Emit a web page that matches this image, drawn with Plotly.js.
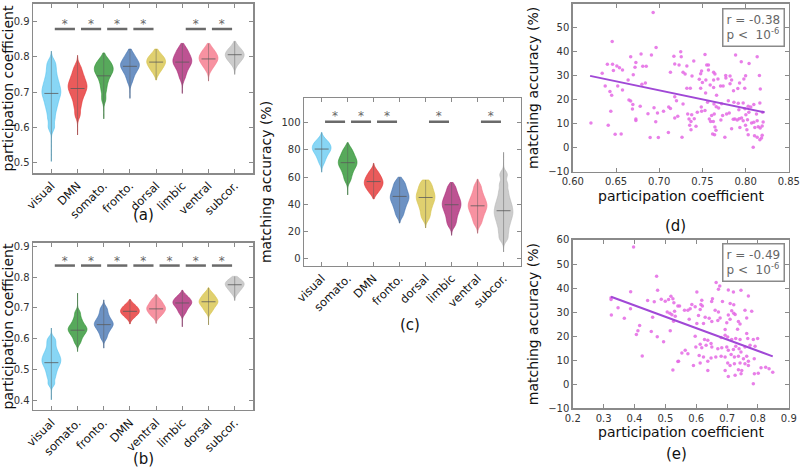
<!DOCTYPE html>
<html>
<head>
<meta charset="utf-8">
<script src="https://cdn.plot.ly/plotly-3.0.1.min.js"></script>
<style>html,body{margin:0;padding:0;background:#fff}#chart{width:800px;height:470px}</style>
</head>
<body>
<div id="chart"></div>
<script>
// ---------- categories ----------
const catsA = ['visual','DMN','somato.','fronto.','dorsal','limbic','ventral','subcor.'];
const catsB = ['visual','somato.','fronto.','DMN','ventral','limbic','dorsal','subcor.'];
const catsC = ['visual','somato.','DMN','fronto.','dorsal','limbic','ventral','subcor.'];

// ---------- violin bodies ----------
const samplesA = [
  [0.60,0.625,0.645,0.66,0.672,0.683,0.692,0.70,0.708,0.717,0.727,0.738,0.752,0.768,0.785],
  [0.635,0.657,0.673,0.686,0.695,0.703,0.71,0.716,0.722,0.729,0.737,0.746,0.757,0.772],
  [0.68,0.705,0.722,0.735,0.745,0.752,0.758,0.763,0.768,0.773,0.779,0.786,0.795],
  [0.73,0.745,0.755,0.762,0.768,0.773,0.777,0.781,0.786,0.792,0.80,0.81],
  [0.755,0.765,0.772,0.778,0.783,0.787,0.791,0.796,0.802,0.81],
  [0.74,0.755,0.766,0.774,0.78,0.785,0.79,0.795,0.801,0.808,0.816,0.826],
  [0.765,0.776,0.783,0.789,0.794,0.798,0.803,0.809,0.816,0.825],
  [0.78,0.79,0.796,0.801,0.805,0.809,0.814,0.82,0.828]
];
const loA  = [0.503,0.578,0.624,0.682,0.734,0.696,0.731,0.750];
const hiA  = [0.816,0.804,0.811,0.822,0.822,0.838,0.838,0.844];
const medA = [0.696,0.710,0.746,0.773,0.785,0.785,0.794,0.806];

const samplesB = [
  [0.455,0.475,0.49,0.502,0.512,0.52,0.527,0.534,0.541,0.549,0.558,0.57,0.585,0.60],
  [0.588,0.602,0.612,0.619,0.625,0.63,0.635,0.64,0.647,0.656,0.668,0.685],
  [0.603,0.618,0.628,0.636,0.642,0.647,0.652,0.658,0.665,0.674,0.686,0.70],
  [0.668,0.676,0.682,0.686,0.69,0.694,0.699,0.705,0.712],
  [0.672,0.68,0.687,0.692,0.697,0.701,0.706,0.712,0.72,0.728],
  [0.683,0.694,0.703,0.709,0.714,0.718,0.722,0.727,0.733,0.741],
  [0.688,0.699,0.707,0.713,0.718,0.722,0.727,0.733,0.74,0.749],
  [0.748,0.758,0.765,0.77,0.775,0.779,0.783,0.788,0.795]
];
const loB  = [0.403,0.559,0.570,0.648,0.650,0.639,0.645,0.724];
const hiB  = [0.635,0.748,0.726,0.727,0.743,0.757,0.765,0.802];
const medB = [0.523,0.628,0.646,0.689,0.697,0.716,0.720,0.775];

const samplesC = [
  [71,74.5,77,78.8,80.2,81.4,82.6,84,85.6,87.5],
  [58,62,65,67.3,69,70.5,72,73.7,75.6,78,81],
  [48.5,51,52.8,54.3,55.6,57,58.4,60,62,64.5],
  [32,36,39,41.5,43.5,45.2,47,49,51.3,54,57],
  [30,34,37.5,40.3,42.6,44.6,46.5,48.5,50.8,53.5,56.5],
  [25,29,32.5,35.3,37.6,39.6,41.5,43.6,46,49,53],
  [26,30,33,35.5,37.5,39.3,41.2,43.3,45.8,49,53.5],
  [15,20,24.5,28,31,33.5,36,38.6,41.5,45,49.5,55,62]
];
const loC  = [63.7,47.0,44.1,26.3,22.7,17.3,18.8,5.1];
const hiC  = [92.9,85.4,70.2,60.0,58.0,56.1,58.5,78.3];
const medC = [80.7,70.7,56.8,45.9,45.1,39.8,39.0,35.4];

// significance bars: left index of each adjacent pair, bar level, star level
const sigA = [0,1,2,3,5,6];        const sigYA = 0.879; const starYA = 0.890;
const sigB = [0,1,2,3,4,5,6];      const sigYB = 0.837; const starYB = 0.850;
const sigC = [0,1,2,4,6];          const sigYC = 100.7; const starYC = 104.5;

// ---------- scatter (d) ----------
const dX = [0.693,0.6456,0.6964,0.679,0.667,0.691,0.673,0.640,0.646,0.651,0.654,0.647,0.6575,0.672,0.681,0.685,0.634,0.670,0.664,0.680,0.684,0.6375,0.652,0.643,0.6575,0.645,0.665,0.667,0.6695,0.678,0.669,0.694,0.711,0.713,0.644,0.705,0.698,0.687,0.673,0.673,0.696,0.7215,0.718,0.621,0.641,0.649,0.656,0.7106,0.6895,0.699,0.713,0.717,0.723,0.718,0.718,0.72,
 0.7249,0.7255,0.753,0.7884,0.8134,0.740,0.795,0.804,0.755,0.757,0.732,0.7276,0.730,0.738,0.749,0.748,0.757,0.763,0.7645,0.777,0.782,0.800,0.816,0.7464,0.754,0.763,0.768,0.7772,0.7838,0.798,0.750,0.759,0.771,0.774,0.782,0.793,0.732,0.736,0.748,0.763,0.786,0.791,0.799,0.817,
 0.7537,0.7664,0.7276,0.7487,0.756,0.7634,0.766,0.7688,0.7722,0.780,0.7865,0.7915,0.7972,0.803,0.806,0.8095,0.8165,0.7992,0.7922,0.733,0.7376,0.7441,0.7491,0.753,0.7607,0.7637,0.7734,0.778,0.7811,0.7876,0.7926,0.7953,0.8003,0.8038,0.8126,0.8196,0.7345,0.7368,0.7406,0.758,0.7595,0.7626,0.7714,0.7857,0.7903,0.7972,0.8022,0.8069,0.8095,0.8134,0.8203,0.7353,0.7368,0.7426,0.7645,0.7657,0.7838,0.7934,0.7999,0.8015,0.8107,0.8146,0.8169,0.8192,0.7264,0.7618,0.7641,0.776,0.803,0.8103,0.8134,0.8192,0.8165,0.8184,0.8088];
const dY = [56.4,44.3,41.8,39.1,38.0,38.7,35.6,34.8,34.8,34.1,33.4,32.2,32.5,33.6,34.0,34.0,31.1,30.5,28.3,26.5,27.0,25.8,25.8,23.5,24.1,21.9,19.9,19.5,18.1,17.3,16.2,16.7,17.0,16.4,15.2,15.2,14.5,14.2,12.0,11.4,10.9,13.1,12.4,10.3,9.4,5.6,5.7,6.4,4.3,4.3,31.5,38.2,34.5,35.0,21.3,19.6,
 40.1,38.0,38.9,38.7,38.0,36.2,35.9,35.2,34.5,34.5,34.1,31.5,30.8,29.9,32.0,30.9,32.5,31.5,30.8,30.2,29.9,30.1,30.2,28.6,28.3,28.3,28.7,29.1,28.3,28.7,27.2,26.2,25.8,25.8,26.7,27.0,24.8,24.8,24.8,25.1,23.8,24.7,24.8,24.5,
 22.85,21.9,18.26,17.0,18.96,18.26,17.15,16.6,18.4,19.65,18.96,18.54,18.7,17.3,17.0,18.0,18.7,16.3,15.9,14.1,13.8,14.8,15.2,15.5,13.5,14.1,13.5,14.1,14.5,12.0,12.1,12.4,13.8,14.8,14.1,14.8,12.0,11.0,12.1,12.0,11.0,11.0,11.6,11.9,11.6,11.3,11.7,10.3,10.6,11.3,10.7,9.36,7.55,8.94,8.66,7.27,7.97,8.5,9.36,7.55,8.5,8.8,8.2,9.08,4.35,5.74,5.46,4.35,5.46,5.04,4.35,5.2,3.37,4.07,0.17];
const dFitX = [0.62, 0.822];
const dFitY = [30.0, 14.8];
const dStats = ['r = -0.38', 'p <  10<sup>-6</sup>'];

// ---------- scatter (e) ----------
const eX = [0.397,0.324,0.324,0.325,0.3466,0.367,0.3875,0.387,0.4166,0.411,0.406,0.425,0.4425,0.464,0.4716,0.4748,0.4867,0.4996,0.5104,0.518,0.5244,0.5276,0.5298,0.5147,0.506,0.5212,0.532,0.5265,0.5405,0.4587,0.4543,0.4737,0.4942,0.5158,0.5244,0.5405,
 0.6645,0.6763,0.672,0.704,0.7205,0.745,0.602,0.6526,0.650,0.685,0.710,0.7216,0.618,0.615,0.620,0.5858,0.5966,0.5804,0.573,0.562,0.546,0.6128,0.6613,0.672,0.715,0.7216,0.704,0.726,0.758,0.7798,0.6074,0.629,0.642,0.6505,0.670,0.6774,0.7367,0.742,0.699,0.7097,0.6235,0.602,0.5772,0.7636,0.769,
 0.6936,0.734,0.5966,0.6268,0.6375,0.6807,0.6936,0.702,0.715,0.728,0.742,0.7636,0.767,0.785,0.799,0.5987,0.6128,0.618,0.632,0.648,0.6505,0.670,0.6828,0.699,0.704,0.7205,0.728,0.7388,0.745,0.758,0.7744,0.7906,0.5643,0.5535,0.573,0.6095,0.6235,0.648,0.6634,0.6807,0.6936,0.713,0.7237,0.7367,0.753,0.7636,0.769,0.788,0.5427,0.591,0.6128,0.6375,0.702,0.7097,0.7237,0.742,0.758,0.769,0.810,0.825,0.836,0.848,0.6936,0.7367,0.7475,0.7884,0.801,0.6375,0.704,0.726,0.7453,0.785];
const eY = [57.1,36.0,35.2,28.8,31.8,27.4,38.5,31.4,24.4,22.2,20.7,11.7,34.8,34.3,44.9,39.1,35.3,34.5,35.2,36.6,35.6,33.9,30.4,29.5,30.0,28.9,28.3,26.2,32.5,27.9,21.9,19.8,17.7,22.2,5.9,9.5,
 42.3,40.9,39.5,39.2,38.4,39.1,38.4,35.6,34.4,34.4,33.6,33.1,34.9,33.2,32.5,33.2,32.2,31.4,30.8,30.8,32.5,31.1,30.8,30.0,30.6,29.5,28.8,29.0,30.8,30.4,28.6,27.9,27.4,26.1,26.5,27.5,26.1,25.1,25.6,27.0,25.3,25.3,27.0,27.6,36.7,
 22.8,22.9,20.0,18.6,18.3,19.4,20.4,19.7,18.6,19.0,18.6,21.1,19.0,18.6,19.0,15.5,16.6,15.2,16.2,16.9,15.5,14.8,15.2,15.5,14.1,14.4,15.8,14.8,13.4,15.5,16.2,15.8,14.1,13.0,12.7,12.0,11.3,10.9,11.3,11.6,11.3,12.4,11.3,11.6,10.6,11.6,9.6,10.6,9.6,7.8,8.8,9.6,8.8,7.8,8.5,8.8,8.5,7.8,6.9,7.1,6.4,5.0,5.7,6.0,5.7,4.4,4.6,5.7,3.2,3.7,4.4,0.2];
const eFitX = [0.324, 0.848];
const eFitY = [36.4, 11.6];
const eStats = ['r = -0.49', 'p <  10<sup>-6</sup>'];

// ---------- styling ----------
const FONT = 'DejaVu Sans, sans-serif';
const colorOf = {
  'visual':  ['rgba(80,195,240,0.68)', 'rgb(80,195,240)'],
  'DMN':     ['rgba(228,45,45,0.78)',  'rgb(228,45,45)'],
  'somato.': ['rgba(40,145,45,0.78)',  'rgb(40,145,45)'],
  'fronto.': ['rgba(60,110,175,0.75)', 'rgb(60,110,175)'],
  'dorsal':  ['rgba(215,195,70,0.78)', 'rgb(215,195,70)'],
  'limbic':  ['rgba(170,35,115,0.78)', 'rgb(170,35,115)'],
  'ventral': ['rgba(245,115,135,0.78)','rgb(245,115,135)'],
  'subcor.': ['rgba(185,185,185,0.72)','rgb(185,185,185)']
};
const traces = [];

function violinPanel(cats, samples, lo, hi, med, bw, sig, sigY, starY, xa, ya) {
  cats.forEach((c, i) => {
    traces.push({
      type: 'violin', y: samples[i], x0: i, name: c, xaxis: xa, yaxis: ya,
      width: 0.72, scalemode: 'width', spanmode: 'manual', span: [lo[i], hi[i]], bandwidth: bw,
      points: false, box: {visible: false}, meanline: {visible: false},
      fillcolor: colorOf[c][0], line: {color: colorOf[c][1], width: 0.6},
      hoverinfo: 'skip'
    });
  });
  // min-max stems
  const sx = [], sy = [];
  cats.forEach((c, i) => { sx.push(i, i, null); sy.push(lo[i], hi[i], null); });
  traces.push({type: 'scatter', mode: 'lines', x: sx, y: sy, xaxis: xa, yaxis: ya,
    line: {color: 'rgba(90,90,90,0.45)', width: 1}, hoverinfo: 'skip'});
  // medians
  traces.push({type: 'scatter', mode: 'markers', x: cats.map((c, i) => i), y: med, xaxis: xa, yaxis: ya,
    marker: {symbol: 'line-ew', size: 10, line: {color: 'rgba(90,90,90,0.8)', width: 1}}, hoverinfo: 'skip'});
  // significance bars
  const bx = [], by = [], tx = [], ty = [];
  sig.forEach(k => { bx.push(k + 0.13, k + 0.9, null); by.push(sigY, sigY, null); tx.push(k + 0.51); ty.push(starY); });
  traces.push({type: 'scatter', mode: 'lines', x: bx, y: by, xaxis: xa, yaxis: ya,
    line: {color: '#6a6a6a', width: 2.5}, hoverinfo: 'skip'});
  traces.push({type: 'scatter', mode: 'text', x: tx, y: ty, text: tx.map(() => '*'), xaxis: xa, yaxis: ya,
    textposition: 'middle center', textfont: {family: FONT, size: 12, color: '#666666'}, hoverinfo: 'skip'});
}

violinPanel(catsA, samplesA, loA, hiA, medA, 0.011, sigA, sigYA, starYA, 'x', 'y');
violinPanel(catsB, samplesB, loB, hiB, medB, 0.009, sigB, sigYB, starYB, 'x2', 'y2');
violinPanel(catsC, samplesC, loC, hiC, medC, 2.6, sigC, sigYC, starYC, 'x3', 'y3');

function scatterPanel(X, Y, fx, fy, xa, ya) {
  traces.push({type: 'scatter', mode: 'markers', x: X, y: Y, xaxis: xa, yaxis: ya,
    marker: {color: 'rgba(228,105,228,0.85)', size: 3.5, line: {width: 0}}, hoverinfo: 'skip'});
  traces.push({type: 'scatter', mode: 'lines', x: fx, y: fy, xaxis: xa, yaxis: ya,
    line: {color: '#a048d6', width: 2}, hoverinfo: 'skip'});
}
scatterPanel(dX, dY, dFitX, dFitY, 'x4', 'y4');
scatterPanel(eX, eY, eFitX, eFitY, 'x5', 'y5');

const axBase = {
  showline: true, mirror: 'ticks', linecolor: '#8a8a8a', linewidth: 1.5,
  ticks: 'inside', ticklen: 4, tickcolor: '#8a8a8a', tickwidth: 1,
  showgrid: false, zeroline: false, fixedrange: true,
  tickfont: {family: FONT, size: 10, color: '#333'}
};
function catX(dom, anchor, cats, rng) {
  return Object.assign({}, axBase, {domain: dom, anchor: anchor, range: rng,
    tickmode: 'array', tickvals: cats.map((c, i) => i), ticktext: cats, tickangle: -45,
    tickfont: {family: FONT, size: 11.5, color: '#111'}});
}
function numY(dom, anchor, rng, tv, fmt, title) {
  return Object.assign({}, axBase, {domain: dom, anchor: anchor, range: rng,
    tickmode: 'array', tickvals: tv, tickformat: fmt,
    title: {text: title, font: {family: FONT, size: 14, color: '#111'}, standoff: 6}});
}
function numX(dom, anchor, rng, dt, t0, fmt) {
  return Object.assign({}, axBase, {domain: dom, anchor: anchor, range: rng, dtick: dt, tick0: t0, tickformat: fmt});
}
const lab = (t, x, y, s) => ({text: t, xref: 'paper', yref: 'paper', x: x, y: y, xanchor: 'center', yanchor: 'middle',
  showarrow: false, font: {family: FONT, size: s || 15, color: '#111'}});
const statBox = (lines, y) => ({text: lines.join('<br>'), xref: 'paper', yref: 'paper', x: 0.981, y: y,
  xanchor: 'right', yanchor: 'top', align: 'left', showarrow: false, bgcolor: '#fff',
  bordercolor: '#8a8a8a', borderwidth: 1.5, borderpad: 3, font: {family: FONT, size: 12, color: '#666'}});

const layout = {
  width: 800, height: 470, margin: {l: 0, r: 0, t: 0, b: 0},
  paper_bgcolor: '#fff', plot_bgcolor: '#fff', showlegend: false, hovermode: false,
  violinmode: 'overlay', font: {family: FONT},
  xaxis:  catX([0.0413, 0.3163], 'y', catsA, [-0.7, 7.7]),
  yaxis:  numY([0.6319, 0.9915], 'x', [0.47, 0.95], [0.5,0.6,0.7,0.8,0.9], '.1f', 'participation coefficient'),
  xaxis2: catX([0.0413, 0.3163], 'y2', catsB, [-0.7, 7.7]),
  yaxis2: numY([0.1277, 0.483], 'x2', [0.37, 0.91], [0.4,0.5,0.6,0.7,0.8,0.9], '.1f', 'participation coefficient'),
  xaxis3: catX([0.38, 0.6509], 'y3', catsC, [-0.68, 7.66]),
  yaxis3: numY([0.4347, 0.7909], 'x3', [-5, 118], [0,20,40,60,80,100], 'd', 'matching accuracy (%)'),
  xaxis4: numX([0.716, 0.986], 'y4', [0.6, 0.85], 0.05, 0.6, '.2f'),
  yaxis4: numY([0.6347, 0.9915], 'x4', [-10, 60], [-10,0,10,20,30,40,50,60], 'd', 'matching accuracy (%)'),
  xaxis5: numX([0.716, 0.986], 'y5', [0.2, 0.9], 0.1, 0.2, '.1f'),
  yaxis5: numY([0.1313, 0.4894], 'x5', [-10, 60], [-10,0,10,20,30,40,50,60], 'd', 'matching accuracy (%)'),
  annotations: [
    lab('(a)', 0.179, 1 - 215 / 470),
    lab('(b)', 0.179, 1 - 459 / 470),
    lab('(c)', 0.5125, 1 - 325 / 470),
    lab('(d)', 0.844, 1 - 226 / 470),
    lab('(e)', 0.846, 1 - 454 / 470),
    lab('participation coefficient', 0.851, 1 - 196 / 470, 14),
    lab('participation coefficient', 0.851, 1 - 432 / 470, 14),
    statBox(dStats, 0.982),
    statBox(eStats, 0.482)
  ]
};
Plotly.newPlot('chart', traces, layout, {staticPlot: true, displayModeBar: false});
</script>
</body>
</html>
